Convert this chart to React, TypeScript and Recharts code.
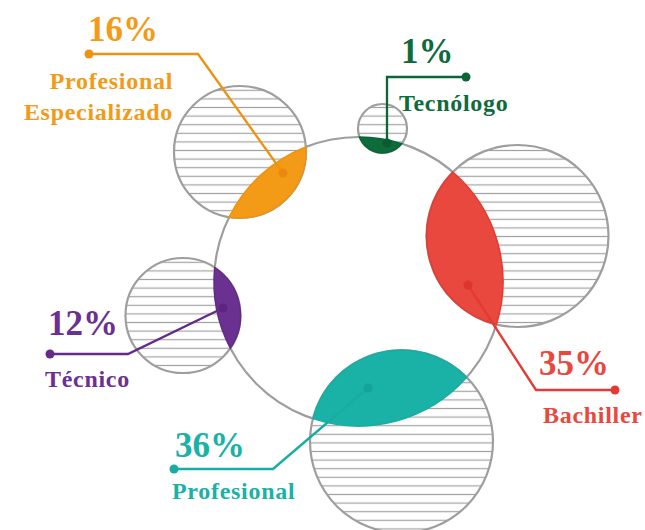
import React from 'react';
import { ScatterChart, Scatter, XAxis, YAxis } from 'recharts';

// ---- data ----
const categories = ['Profesional Especializado', 'Tecnólogo', 'Bachiller', 'Técnico', 'Profesional'];
const percentages = [16, 1, 35, 12, 36];
const nameLines = [['Profesional', 'Especializado'], ['Tecnólogo'], ['Bachiller'], ['Técnico'], ['Profesional']];

// ---- layout (chart units == pixels) ----
const W = 645;
const H = 530;
const mainX = 358.5;
const mainY = 281.5;
const mainR = 144.5;
const satX = [240, 382.5, 517.5, 183, 401.5];
const satY = [152, 128.5, 236, 315.5, 441.5];
const satR = [66, 24.5, 91, 57.5, 91.5];
const lensDots = [[283, 173], [387, 143], [468, 285], [223, 308], [368, 388]];
const elbows = [[198, 54], [387, 77], [536, 390], [128, 354], [273, 469]];
const ends = [[89, 54], [466, 77], [615, 390], [50, 354], [174, 469]];
const pctPos = [[88, 41], [401, 63], [539, 375], [48, 335], [175, 457]];
const namePos = [[173, 89, 'end'], [399, 111, 'start'], [543, 423, 'start'], [45, 387, 'start'], [172, 499, 'start']];
const nameLineGap = 31;

// ---- styles ----
const colors = ['#F39A17', '#0E6B3B', '#E8483E', '#6B3190', '#1AB1A6'];
const strokeColors = ['#EE9210', '#0B6535', '#E43A31', '#632A87', '#17ADA2'];
const dotColors = ['#E98A0C', '#0A5C30', '#DD342B', '#5B2580', '#13A398'];
const GRAY = '#9E9E9E';
const FONT = '"Liberation Serif", "Times New Roman", serif';

const kx = 1; // pixels per chart unit (plot area W px for domain [0, W])
const ky = 1;

const satData = categories.map((c, i) => ({ name: c, pct: percentages[i], x: satX[i], y: satY[i], r: satR[i], i }));
const mainData = [{ x: mainX, y: mainY, r: mainR }];

function lensPath(ax: number, ay: number, R: number, bx: number, by: number, r: number) {
  const dx = bx - ax;
  const dy = by - ay;
  const d = Math.hypot(dx, dy);
  const ux = dx / d;
  const uy = dy / d;
  const l = (R * R - r * r + d * d) / (2 * d);
  const h = Math.sqrt(Math.max(0, R * R - l * l));
  const mx = ax + l * ux;
  const my = ay + l * uy;
  const p1 = [mx - h * uy, my + h * ux];
  const p2 = [mx + h * uy, my - h * ux];
  const cross = (x1: number, y1: number, x2: number, y2: number) => x1 * y2 - y1 * x2;
  const qA = [ax + R * ux, ay + R * uy];
  const sA = cross(p1[0] - ax, p1[1] - ay, qA[0] - ax, qA[1] - ay) > 0 ? 1 : 0;
  const qB = [bx - r * ux, by - r * uy];
  const sB = cross(p2[0] - bx, p2[1] - by, qB[0] - bx, qB[1] - by) > 0 ? 1 : 0;
  return `M${p1[0]},${p1[1]} A${R},${R} 0 0 ${sA} ${p2[0]},${p2[1]} A${r},${r} 0 0 ${sB} ${p1[0]},${p1[1]} Z`;
}

const MainShape = (props: any) => {
  const { cx, cy, payload } = props;
  return (
    <g>
      <defs>
        <pattern id="hatch" patternUnits="userSpaceOnUse" x="0" y="0" width="12" height="8.6">
          <rect x="0" y="0" width="12" height="8.6" fill="#ffffff" />
          <line x1="0" y1="4.3" x2="12" y2="4.3" stroke="#A2A2A2" strokeWidth="1.2" />
        </pattern>
      </defs>
      <circle cx={cx} cy={cy} r={payload.r * kx} fill="none" stroke={GRAY} strokeWidth={2.2} />
    </g>
  );
};

const SatShape = (props: any) => {
  const { cx, cy, payload } = props;
  return <circle cx={cx} cy={cy} r={payload.r * kx} fill="url(#hatch)" stroke={GRAY} strokeWidth={2.2} />;
};

const LensShape = (props: any) => {
  const { cx, cy, payload } = props;
  const i = payload.i;
  const px = (x: number) => cx + (x - payload.x) * kx;
  const py = (y: number) => cy + (y - payload.y) * ky;
  const d = lensPath(px(mainX), py(mainY), mainR * kx, cx, cy, payload.r * kx);
  return <path d={d} fill={colors[i]} stroke={strokeColors[i]} strokeWidth={1.5} />;
};

const LabelShape = (props: any) => {
  const { cx, cy, payload } = props;
  const i = payload.i;
  const px = (x: number) => cx + (x - payload.x) * kx;
  const py = (y: number) => cy + (y - payload.y) * ky;
  const c = colors[i];
  const pts = [lensDots[i], elbows[i], ends[i]].map((p) => `${px(p[0])},${py(p[1])}`).join(' ');
  const np = namePos[i];
  return (
    <g>
      <polyline points={pts} fill="none" stroke={strokeColors[i]} strokeWidth={2.3} />
      <circle cx={px(lensDots[i][0])} cy={py(lensDots[i][1])} r={4.5} fill={dotColors[i]} />
      <circle cx={px(ends[i][0])} cy={py(ends[i][1])} r={4.5} fill={strokeColors[i]} />
      <text x={px(pctPos[i][0])} y={py(pctPos[i][1])} fill={c} fontFamily={FONT} fontWeight="bold" fontSize={35}>
        {`${payload.pct}%`}
      </text>
      {nameLines[i].map((t, k) => (
        <text
          key={k}
          x={px(np[0] as number)}
          y={py((np[1] as number) + k * nameLineGap)}
          fill={c}
          fontFamily={FONT}
          fontWeight="bold"
          fontSize={24}
          letterSpacing={0.7}
          textAnchor={np[2] as any}
        >
          {t}
        </text>
      ))}
    </g>
  );
};

export default function App() {
  return (
    <div style={{ position: 'absolute', left: 0, top: 0, width: W, height: H, background: '#fff' }}>
      <ScatterChart width={W} height={H} margin={{ top: 0, right: 0, bottom: 0, left: 0 }}>
        <XAxis type="number" dataKey="x" domain={[0, W]} allowDataOverflow hide />
        <YAxis type="number" dataKey="y" domain={[0, H]} reversed allowDataOverflow hide />
        <Scatter data={mainData} shape={MainShape} isAnimationActive={false} />
        <Scatter data={satData} shape={SatShape} isAnimationActive={false} />
        <Scatter data={satData} shape={LensShape} isAnimationActive={false} />
        <Scatter data={satData} shape={LabelShape} isAnimationActive={false} />
      </ScatterChart>
    </div>
  );
}
